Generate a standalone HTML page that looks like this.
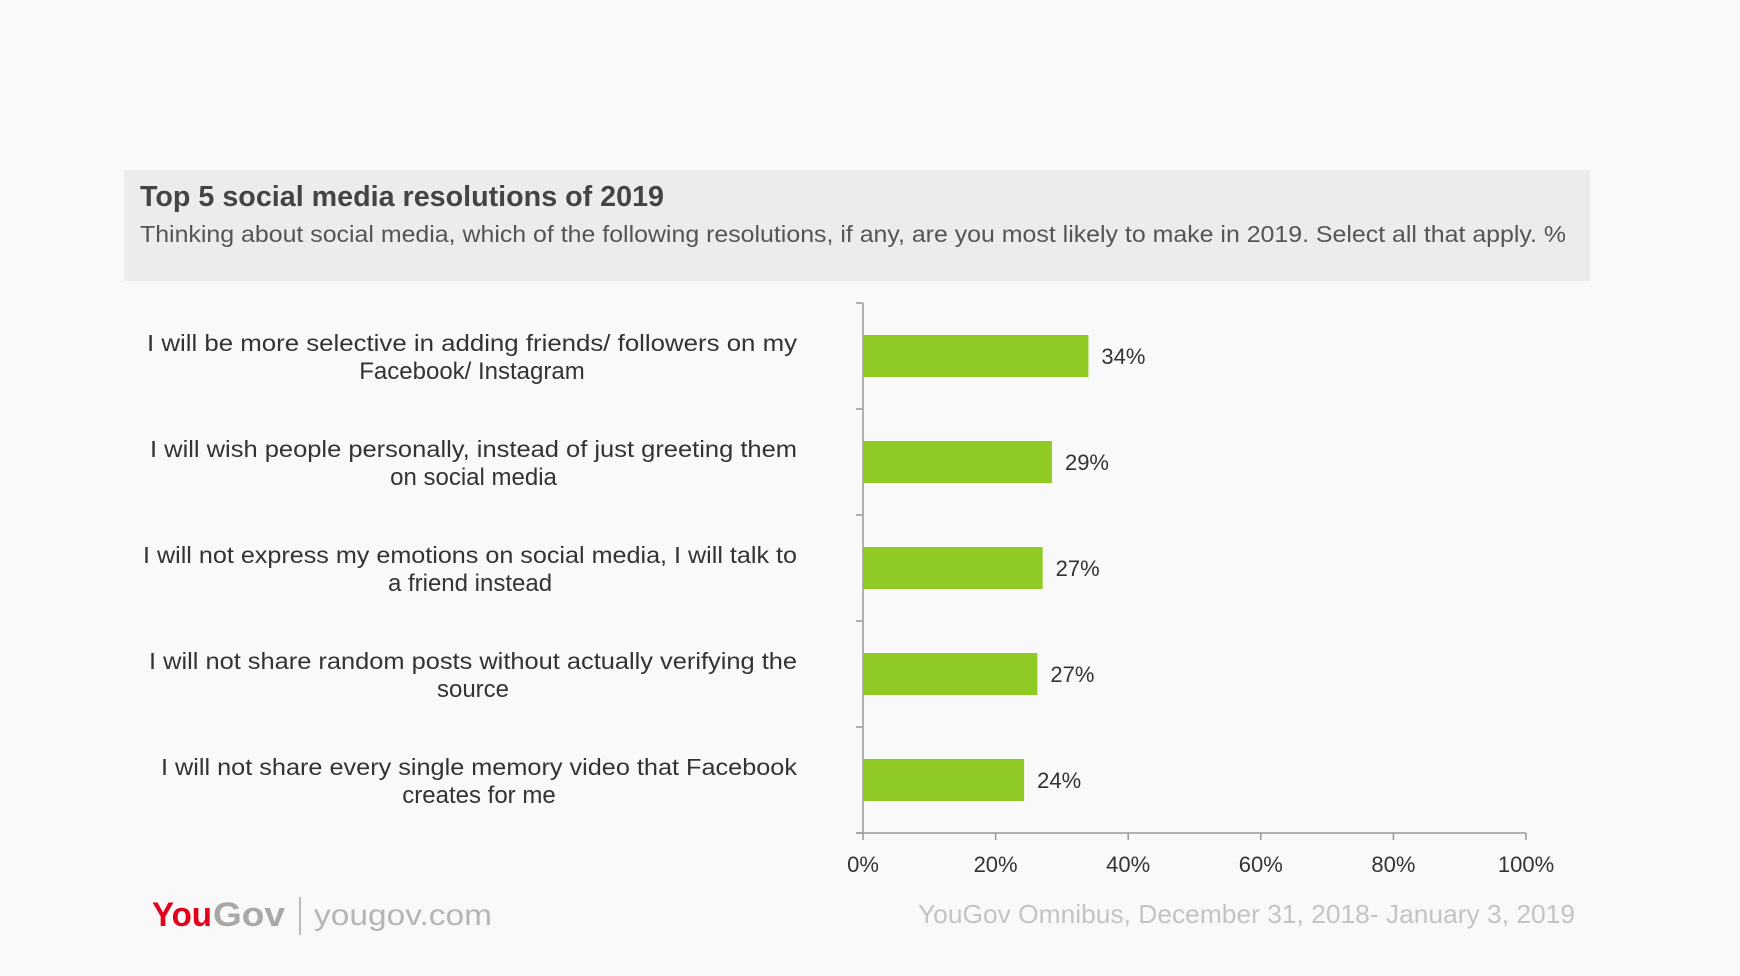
<!DOCTYPE html>
<html><head><meta charset="utf-8"><style>
html,body{margin:0;padding:0;background:#f9f9f9;}
svg{display:block;font-family:"Liberation Sans",sans-serif;}
</style></head><body>
<svg id="chart" width="1740" height="976" viewBox="0 0 1740 976">
<rect x="0" y="0" width="1740" height="976" fill="#f9f9f9"/>
<rect x="124" y="170" width="1466" height="111" fill="#ececec"/>
<text x="140" y="206" font-size="29" font-weight="bold" fill="#444" textLength="524" lengthAdjust="spacingAndGlyphs">Top 5 social media resolutions of 2019</text>
<text x="140" y="242" font-size="23" fill="#555" textLength="1426" lengthAdjust="spacingAndGlyphs">Thinking about social media, which of the following resolutions, if any, are you most likely to make in 2019. Select all that apply. %</text>
<g id="plot"></g>
<text x="152" y="926" font-size="34" font-weight="bold" fill="#e3001b" textLength="60" lengthAdjust="spacingAndGlyphs">You</text>
<text x="213" y="926" font-size="34" font-weight="bold" fill="#a8a8a8" textLength="72" lengthAdjust="spacingAndGlyphs">Gov</text>
<rect x="299" y="897" width="2" height="38" fill="#bbb"/>
<text x="314" y="925" font-size="30" fill="#b5b5b5" textLength="178" lengthAdjust="spacingAndGlyphs">yougov.com</text>
<text x="918" y="923" font-size="26" fill="#c4c4c4" textLength="657" lengthAdjust="spacingAndGlyphs">YouGov Omnibus, December 31, 2018- January 3, 2019</text>
</svg>
<script>
const categories=[
 ["I will be more selective in adding friends/ followers on my","Facebook/ Instagram"],
 ["I will wish people personally, instead of just greeting them","on social media"],
 ["I will not express my emotions on social media, I will talk to","a friend instead"],
 ["I will not share random posts without actually verifying the","source"],
 ["I will not share every single memory video that Facebook","creates for me"]];
const values=[34,28.5,27.1,26.3,24.3];
const valueLabels=["34%","29%","27%","27%","24%"];
const ticks=[0,20,40,60,80,100];
const tickLabels=["0%","20%","40%","60%","80%","100%"];
const NS="http://www.w3.org/2000/svg";
const g=document.getElementById("plot");
const x0=863,x1=1526,yTop=303,yBot=833;
const xs=v=>x0+(x1-x0)*v/100;
const band=(yBot-yTop)/categories.length;
const yc=i=>yTop+band*(i+0.5);
function mk(t,a){const e=document.createElementNS(NS,t);for(const k in a)e.setAttribute(k,a[k]);g.appendChild(e);return e;}
let e=mk("line",{x1:x0,y1:yTop,x2:x0,y2:yBot,stroke:"#999","stroke-width":1.5});


e=mk("line",{x1:x0-6,y1:yBot,x2:x1,y2:yBot,stroke:"#999","stroke-width":1.5});


for(let i=0;i<=categories.length;i++){
 e=mk("line",{x1:x0-7,y1:yTop+band*i,x2:x0,y2:yTop+band*i,stroke:"#999","stroke-width":1.5});
 
 
}
ticks.forEach((t,i)=>{
 e=mk("line",{x1:xs(t),y1:yBot,x2:xs(t),y2:yBot+7,stroke:"#999","stroke-width":1.5});
 
 
 e=mk("text",{x:xs(t),y:yBot+39,"font-size":22,fill:"#333","text-anchor":"middle"});
 e.textContent=tickLabels[i];
 
 
});
categories.forEach((c,i)=>{
 const y=yc(i);
 e=mk("rect",{x:x0,y:y-21,width:xs(values[i])-x0,height:42,fill:"#8fcb24"});
 
 
 e=mk("text",{x:xs(values[i])+13,y:y+8,"font-size":22,fill:"#333"});
 e.textContent=valueLabels[i];
 
 
 e=mk("text",{x:797,y:y-5,"font-size":23,fill:"#333","text-anchor":"end"});
 e.textContent=c[0];
 
 
 const w=[650,647,654,648,636][i];
 e.setAttribute('textLength',w);e.setAttribute('lengthAdjust','spacingAndGlyphs');
 e=mk("text",{x:797-w/2,y:y+23,"font-size":24,fill:"#333","text-anchor":"middle"});
 e.textContent=c[1];
 
 
});
</script>
</body></html>
